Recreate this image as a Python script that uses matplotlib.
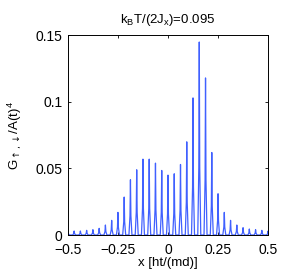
import numpy as np
import matplotlib
matplotlib.use('Agg')
import matplotlib.pyplot as plt

plt.rcParams['font.family'] = ['Liberation Sans', 'DejaVu Sans']
plt.rcParams['mathtext.fontset'] = 'custom'
plt.rcParams['mathtext.rm'] = 'Liberation Sans'
plt.rcParams['mathtext.it'] = 'Liberation Sans'
plt.rcParams['mathtext.sf'] = 'DejaVu Sans'

# peak positions are k/32, k = -16..16
peak_k = np.arange(-16, 17)
peak_h = [0.003, 0.003, 0.003, 0.0035, 0.004, 0.005, 0.0075, 0.011, 0.017,
          0.0285, 0.0415, 0.049, 0.057, 0.057, 0.054, 0.0485, 0.045,
          0.046, 0.053, 0.070, 0.103, 0.145, 0.118, 0.062, 0.031, 0.017,
          0.011, 0.0075, 0.0055, 0.0045, 0.004, 0.0035, 0.003]
half_w = 0.0075

xs, ys = [], []
for k, h in zip(peak_k, peak_h):
    xc = k / 32
    xs += [xc - half_w, xc - half_w * 0.3, xc, xc + half_w * 0.3, xc + half_w]
    ys += [0, h * 0.35, h, h * 0.35, 0]

fig = plt.figure(figsize=(2.84, 2.72), dpi=100)
ax = fig.add_axes([0.239, 0.136, 0.705, 0.734])
ax.plot(xs, ys, color='#4060ff', lw=0.9)

ax.set_xlim(-0.5, 0.5)
ax.set_ylim(0, 0.15)
ax.set_xticks([-0.5, -0.25, 0, 0.25, 0.5])
ax.set_xticklabels(['\u22120.5', '\u22120.25', '0', '0.25', '0.5'])
ax.set_yticks([0, 0.05, 0.1, 0.15])
ax.set_yticklabels(['0', '0.05', '0.1', '0.15'])
ax.tick_params(direction='in', top=True, right=True, labelsize=10,
               length=2.5, width=0.6)
ax.tick_params(axis='x', pad=6)
ax.tick_params(axis='y', pad=4)
for s in ax.spines.values():
    s.set_linewidth(0.7)

ax.set_title(r'k$_\mathregular{B}$T/(2J$_\mathregular{x}$)=0.095', fontsize=9.5, pad=9)
ax.set_xlabel('x [ht/(md)]', fontsize=9.5, labelpad=0)
ax.set_ylabel(r'G$_{\mathsf{\uparrow,\downarrow}}$/A(t)$^\mathregular{4}$', fontsize=9.5, labelpad=8)

fig.savefig('out.png', dpi=100)
